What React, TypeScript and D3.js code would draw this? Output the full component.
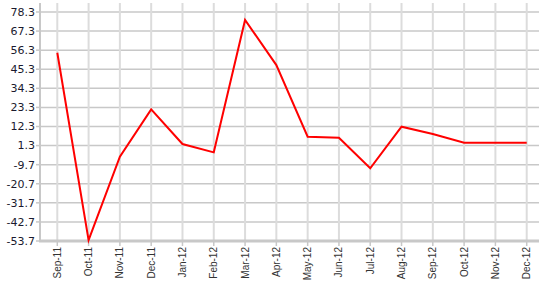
import React from "react";
import * as d3 from "d3";

const categories = ["Sep-11","Oct-11","Nov-11","Dec-11","Jan-12","Feb-12","Mar-12","Apr-12","May-12","Jun-12","Jul-12","Aug-12","Sep-12","Oct-12","Nov-12","Dec-12"];
const values = [54.8, -53.2, -5.1, 22.2, 2.2, -2.6, 73.7, 47.7, 6.4, 5.8, -11.8, 12.2, 8.0, 2.9, 2.9, 2.9];
const yTicks = [78.3, 67.3, 56.3, 45.3, 34.3, 23.3, 12.3, 1.3, -9.7, -20.7, -31.7, -42.7, -53.7];

export default function App() {
  const W = 539, H = 284;
  const left = 40, right = 539, top = 3, bottom = 241;
  const x = d3.scalePoint<string>().domain(categories).range([57.3, 526.7]);
  const y = d3.scaleLinear().domain([-53.7, 78.3]).range([241, 12]);
  const line = d3.line<number>().x((_, i) => x(categories[i])!).y(d => y(d));
  return (
    <svg width={W} height={H} style={{ position: "absolute", left: 0, top: 0 }}>
      <rect width={W} height={H} fill="#fff" />
      {yTicks.map(t => (
        <g key={t}>
          <line x1={left} x2={right} y1={y(t)} y2={y(t)} stroke="#c8c8c8" strokeWidth={1.5} />
          <line x1={left - 4} x2={left} y1={y(t)} y2={y(t)} stroke="#c8c8c8" strokeWidth={1.5} />
          <text x={left - 5} y={y(t)} dy="0.35em" textAnchor="end" fontFamily="DejaVu Sans, Verdana, sans-serif" fontSize={11} fill="#1a1a2e">{t.toFixed(1)}</text>
        </g>
      ))}
      {categories.map(c => (
        <g key={c}>
          <line x1={x(c)} x2={x(c)} y1={top} y2={bottom} stroke="#dcdcdc" strokeWidth={2} />
          <line x1={x(c)} x2={x(c)} y1={bottom} y2={bottom + 5} stroke="#c8c8c8" strokeWidth={1.5} />
          <text transform={`translate(${x(c)! + 3.5},${bottom + 6}) rotate(-90)`} textAnchor="end" fontFamily="Liberation Sans, Arial, sans-serif" fontSize={10} fill="#333">{c}</text>
        </g>
      ))}
      <line x1={left} x2={left} y1={top} y2={bottom + 1} stroke="#c8c8c8" strokeWidth={2} />
      <line x1={left - 1} x2={right} y1={bottom} y2={bottom} stroke="#c8c8c8" strokeWidth={3} />
      <path d={line(values)!} fill="none" stroke="#ff0000" strokeWidth={2} strokeLinejoin="miter" />
    </svg>
  );
}
